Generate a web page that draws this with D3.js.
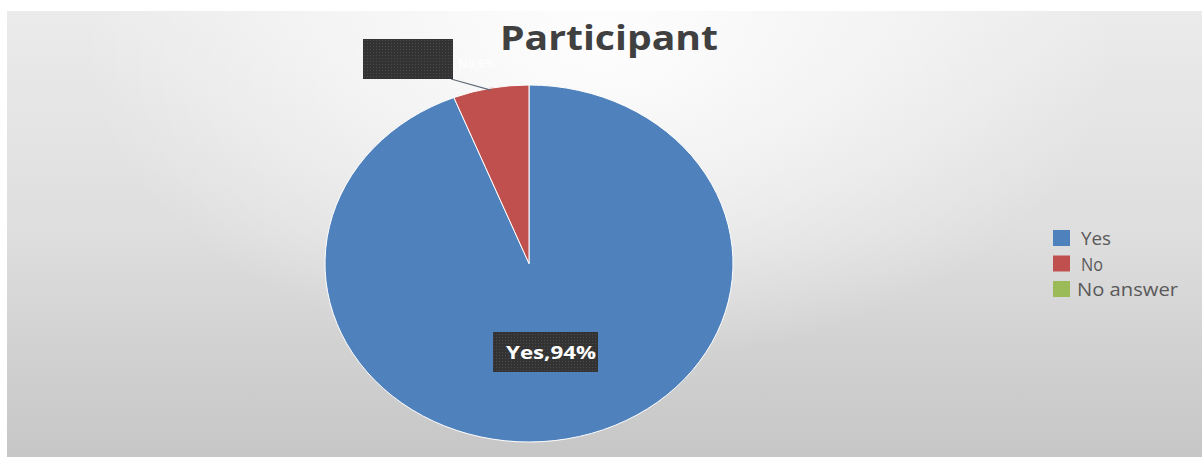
<!DOCTYPE html>
<html>
<head>
<meta charset="utf-8">
<script src="https://cdn.jsdelivr.net/npm/d3@7/dist/d3.min.js"></script>
<style>
  html, body { margin: 0; padding: 0; background: #ffffff; }
  svg { display: block; }
</style>
</head>
<body>
<svg id="chart" width="1202" height="458"></svg>
<script>
// Survey answers
const categories = ["Yes", "No", "No answer"];
const shares = [94, 6, 0];
const colors = ["#4f81bd", "#c0504d", "#9bbb59"];
const titleText = "Participant";

const svg = d3.select("#chart");
const W = 1202, H = 458;
const defs = svg.append("defs");

// Chart area: vertical grey fade with a bright glow near the top centre
const lin = defs.append("linearGradient").attr("id", "bgLin")
  .attr("x1", 0).attr("y1", 0).attr("x2", 0).attr("y2", 1);
lin.append("stop").attr("offset", "0%").attr("stop-color", "#ebebeb");
lin.append("stop").attr("offset", "50%").attr("stop-color", "#dedede");
lin.append("stop").attr("offset", "100%").attr("stop-color", "#c6c6c6");

const glow = defs.append("radialGradient").attr("id", "bgGlow")
  .attr("gradientUnits", "userSpaceOnUse")
  .attr("cx", 600).attr("cy", 40).attr("r", 520)
  .attr("gradientTransform", "translate(600,40) scale(1,0.62) translate(-600,-40)");
glow.append("stop").attr("offset", "0%").attr("stop-color", "#ffffff").attr("stop-opacity", 0.95);
glow.append("stop").attr("offset", "55%").attr("stop-color", "#ffffff").attr("stop-opacity", 0.45);
glow.append("stop").attr("offset", "100%").attr("stop-color", "#ffffff").attr("stop-opacity", 0);

const area = { x: 7, y: 11, w: W - 7, h: 446 };
svg.append("rect")
  .attr("x", area.x).attr("y", area.y).attr("width", area.w).attr("height", area.h)
  .attr("fill", "url(#bgLin)");
svg.append("rect")
  .attr("x", area.x).attr("y", area.y).attr("width", area.w).attr("height", area.h)
  .attr("fill", "url(#bgGlow)");

// Dotted texture for the label boxes
const pat = defs.append("pattern").attr("id", "dots")
  .attr("width", 3).attr("height", 3).attr("patternUnits", "userSpaceOnUse");
pat.append("rect").attr("width", 3).attr("height", 3).attr("fill", "#333333");
pat.append("rect").attr("x", 1).attr("y", 1).attr("width", 1).attr("height", 1).attr("fill", "#4a4a4a");

// Title
svg.append("text")
  .attr("x", 500).attr("y", 50)
  .attr("font-family", "'Open Sans', 'Noto Sans', sans-serif")
  .attr("font-weight", 700)
  .attr("font-size", 34)
  .attr("textLength", 218).attr("lengthAdjust", "spacingAndGlyphs")
  .attr("fill", "#404040")
  .text(titleText);

// Pie (slightly wider than tall)
const cx = 529, cy = 263.5, ry = 178.5, rx = 204;
const pie = d3.pie().sort(null).value(d => d.v);
const arcs = pie(categories.map((c, i) => ({ c, v: shares[i], col: colors[i] })));
const arc = d3.arc().innerRadius(0).outerRadius(ry);

const pieG = svg.append("g")
  .attr("transform", `translate(${cx},${cy}) scale(${rx / ry},1)`);

pieG.selectAll("path.slice")
  .data(arcs.filter(d => d.data.v > 0))
  .join("path")
  .attr("class", "slice")
  .attr("d", arc)
  .attr("fill", d => d.data.col)
  .attr("stroke", "#ffffff")
  .attr("stroke-width", 1)
  .attr("vector-effect", "non-scaling-stroke");

// Label for "No": callout box above the pie, joined by a leader line
const noArc = arcs[1];
const noMid = (noArc.startAngle + noArc.endAngle) / 2;
const edgeX = cx + Math.sin(noMid) * rx;
const edgeY = cy - Math.cos(noMid) * ry;
svg.append("line")
  .attr("x1", 451).attr("y1", 79)
  .attr("x2", edgeX).attr("y2", edgeY + 2)
  .attr("stroke", "#5f6b78").attr("stroke-width", 1.2);
svg.append("rect")
  .attr("x", 363).attr("y", 39).attr("width", 90).attr("height", 40)
  .attr("fill", "url(#dots)");
svg.append("text")
  .attr("x", 458).attr("y", 68)
  .attr("font-family", "'Open Sans', sans-serif")
  .attr("font-weight", 700).attr("font-size", 13)
  .attr("textLength", 38).attr("lengthAdjust", "spacingAndGlyphs")
  .attr("fill", "#ffffff").attr("opacity", 0.8)
  .text(`${categories[1]},${shares[1]}%`);

// Label for "Yes": box inside the big slice
svg.append("rect")
  .attr("x", 493).attr("y", 332).attr("width", 105).attr("height", 40)
  .attr("fill", "url(#dots)");
svg.append("text")
  .attr("x", 506).attr("y", 359)
  .attr("font-family", "'Open Sans', sans-serif")
  .attr("font-weight", 700).attr("font-size", 17)
  .attr("textLength", 90).attr("lengthAdjust", "spacingAndGlyphs")
  .attr("fill", "#ffffff")
  .text(`${categories[0]},${shares[0]}%`);

// Legend
const legendX = [1081, 1081, 1077];
const legendW = [30, 22, 101];
const leg = svg.append("g").attr("transform", "translate(0,230)");
const item = leg.selectAll("g").data(categories).join("g")
  .attr("transform", (d, i) => `translate(0,${i * 25.5})`);
item.append("rect")
  .attr("x", 1053)
  .attr("width", 17).attr("height", 16)
  .attr("fill", (d, i) => colors[i]);
item.append("text")
  .attr("x", (d, i) => legendX[i])
  .attr("y", 15)
  .attr("font-family", "'Open Sans', 'Noto Sans', sans-serif")
  .attr("font-size", 18)
  .attr("textLength", (d, i) => legendW[i]).attr("lengthAdjust", "spacingAndGlyphs")
  .attr("fill", "#595959")
  .text(d => d);
</script>
</body>
</html>
